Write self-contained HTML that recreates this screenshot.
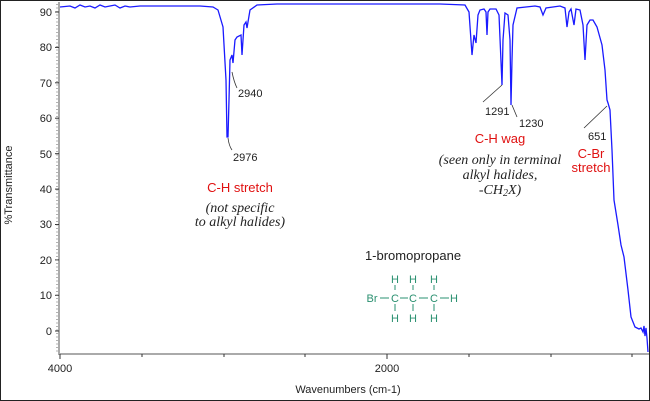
<!DOCTYPE html>
<html><head><meta charset="utf-8"><style>
body{margin:0;background:#fff}
svg{display:block;font-family:"Liberation Sans",sans-serif}
</style></head><body>
<svg width="650" height="401" viewBox="0 0 650 401">
<rect x="0.5" y="0.5" width="649" height="400" fill="#fff" stroke="#222"/>
<line x1="59" y1="2" x2="59" y2="355" stroke="#aaa" stroke-width="2"/>
<line x1="59" y1="354" x2="649" y2="354" stroke="#aaa" stroke-width="2"/>
<g stroke="#333" stroke-width="1">
<line x1="55" y1="12" x2="59" y2="12"/><line x1="55" y1="47.4" x2="59" y2="47.4"/><line x1="55" y1="82.8" x2="59" y2="82.8"/><line x1="55" y1="118.2" x2="59" y2="118.2"/><line x1="55" y1="153.7" x2="59" y2="153.7"/><line x1="55" y1="189.1" x2="59" y2="189.1"/><line x1="55" y1="224.5" x2="59" y2="224.5"/><line x1="55" y1="259.9" x2="59" y2="259.9"/><line x1="55" y1="295.3" x2="59" y2="295.3"/><line x1="55" y1="331" x2="59" y2="331"/>
<line x1="60" y1="354" x2="60" y2="359"/><line x1="142" y1="354" x2="142" y2="357"/><line x1="224" y1="354" x2="224" y2="357"/><line x1="305" y1="354" x2="305" y2="357"/><line x1="387" y1="354" x2="387" y2="359"/><line x1="469" y1="354" x2="469" y2="357"/><line x1="551" y1="354" x2="551" y2="357"/><line x1="632" y1="354" x2="632" y2="357"/>
</g>
<g stroke="#666" stroke-width="1" stroke-dasharray="1 2.5"><line x1="57" y1="4" x2="57" y2="352"/></g>
<g font-size="11" fill="#222" text-anchor="end">
<text x="52" y="16">90</text><text x="52" y="51">80</text><text x="52" y="87">70</text><text x="52" y="122">60</text><text x="52" y="158">50</text><text x="52" y="193">40</text><text x="52" y="228">30</text><text x="52" y="264">20</text><text x="52" y="299">10</text><text x="52" y="335">0</text>
</g>
<g font-size="11" fill="#222" text-anchor="middle">
<text x="60" y="372">4000</text><text x="387" y="372">2000</text>
<text x="348" y="393">Wavenumbers (cm-1)</text>
</g>
<text transform="translate(12,185) rotate(-90)" font-size="11" fill="#222" text-anchor="middle">%Transmittance</text>
<polyline fill="none" stroke="#1a1aff" stroke-width="1.3" points="60,7 70,6 75,8 80,5 85,7 90,6 95,8 100,5 105,7 110,6 115,5 120,8 125,6 130,7 140,6 160,6 200,6 213,7 218,10 223,27 226,80 227,137 228,137 229,100 230,60 232,55 233,63 235,40 237,37 241,35 242,55 243,40 244,25 246,22 247,28 250,10 257,5 277,4 320,4 400,4 440,4 465,5 469,12 472,55 474,35 476,43 478,15 480,10 484,9 486,12 487,35 488,12 490,9 496,9 499,15 502,85 503,40 505,13 508,15 510,40 511,105 512,60 513,25 517,8 535,6 540,7 543,15 546,8 560,6 565,8 567,27 569,12 571,9 574,25 576,9 580,10 583,25 585,60 587,25 590,20 593,20 597,27 602,45 605,70 607,100 608,103 610,110 612,150 614,200 618,225 621,245 624,257 628,290 631,317 635,327 639,329 641,328 643,332 644,326 645,336 646,328 647,338 648,352"/>
<g fill="none" stroke="#333" stroke-width="0.8">
<path d="M232,72 Q234,82 237,88"/><path d="M228,138 Q229,146 232,150"/>
<line x1="502" y1="85" x2="483" y2="102"/><line x1="512" y1="105" x2="517" y2="117"/><line x1="607" y1="106" x2="584" y2="128"/>
</g>
<g font-size="11" fill="#222">
<text x="238" y="97">2940</text><text x="233" y="161">2976</text>
<text x="485" y="115">1291</text><text x="519" y="127">1230</text><text x="588" y="140">651</text>
</g>
<g font-size="13" fill="#e01010" text-anchor="middle">
<text x="240" y="192">C-H stretch</text>
<text x="500" y="143">C-H wag</text>
<text x="591" y="158">C-Br</text><text x="591" y="172">stretch</text>
</g>
<g font-family="Liberation Serif,serif" font-style="italic" font-size="14" fill="#222" text-anchor="middle">
<text x="240" y="212">(not specific</text><text x="240" y="226">to alkyl halides)</text>
<text x="500" y="164">(seen only in terminal</text><text x="500" y="179">alkyl halides,</text><text x="500" y="194">-CH<tspan font-size="10" dy="2">2</tspan><tspan dy="-2">X)</tspan></text>
</g>
<text x="413" y="260" font-size="13" fill="#222" text-anchor="middle">1-bromopropane</text>
<g font-size="11" fill="#2a9070" text-anchor="middle">
<text x="372" y="302">Br</text>
<text x="395" y="302">C</text><text x="413" y="302">C</text><text x="434" y="302">C</text><text x="454" y="302">H</text>
<text x="395" y="283">H</text><text x="413" y="283">H</text><text x="434" y="283">H</text>
<text x="395" y="322">H</text><text x="413" y="322">H</text><text x="434" y="322">H</text>
</g>
<g stroke="#2a9070" stroke-width="1">
<line x1="380" y1="298" x2="389" y2="298"/><line x1="400" y1="298" x2="408" y2="298"/><line x1="419" y1="298" x2="428" y2="298"/><line x1="440" y1="298" x2="449" y2="298"/>
<line x1="395" y1="285" x2="395" y2="290"/><line x1="413" y1="285" x2="413" y2="290"/><line x1="434" y1="285" x2="434" y2="290"/>
<line x1="395" y1="304" x2="395" y2="311"/><line x1="413" y1="304" x2="413" y2="311"/><line x1="434" y1="304" x2="434" y2="311"/>
</g>
</svg>
</body></html>
